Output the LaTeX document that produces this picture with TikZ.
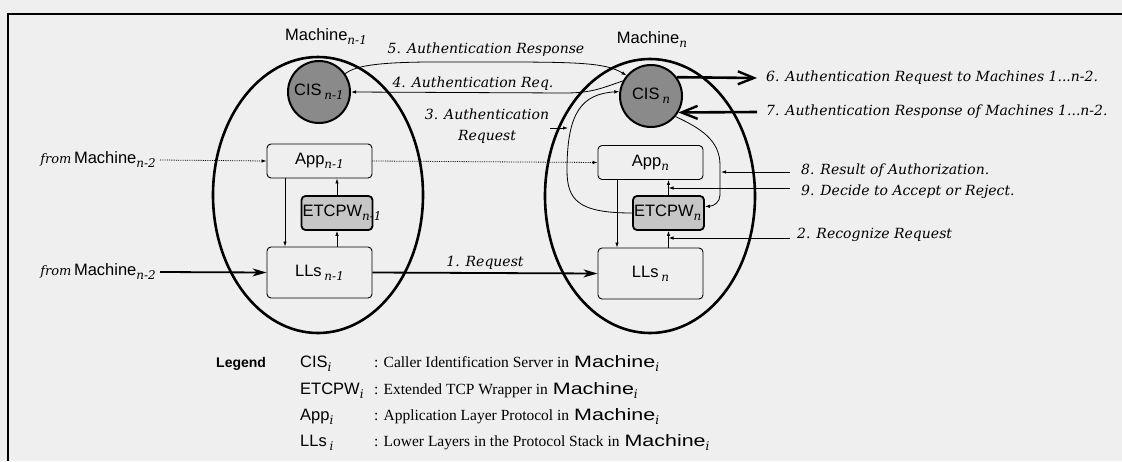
\documentclass[tikz,border=0pt]{standalone}
\usepackage{fontspec}
\usepackage{graphicx}
\setmainfont{Liberation Serif}
\setsansfont{Liberation Sans}
\newfontfamily\labfont{DejaVu Serif}
\usetikzlibrary{arrows.meta,shapes.geometric}
\definecolor{bg}{RGB}{239,239,239}
\definecolor{cisgray}{RGB}{138,138,138}
\definecolor{etcgray}{RGB}{198,198,198}
\newcommand\labf{\labfont\itshape\fontsize{14}{21}\selectfont}
\newcommand\lab[1]{{\labf #1}}
\newcommand\labsm[1]{{\labfont\itshape\fontsize{13}{14}\selectfont #1}}
\newcommand\sbs[1]{\raisebox{-4pt}{\labfont\itshape\fontsize{12}{12}\selectfont #1}}
\newcommand\sns{\sffamily\fontsize{16.5}{18}\selectfont}
\newcommand\descf{\rmfamily\fontsize{15.5}{17}\selectfont}
\newcommand\legmach{\scalebox{1.3}[1]{\sns Machine}\sbs{i}}
\begin{document}
\begin{tikzpicture}[x=1pt,y=-1pt,
  machine/.style={ellipse, draw, line width=2.6pt, inner sep=0pt},
  cis/.style={circle, draw, line width=2pt, fill=cisgray, minimum size=62pt, inner sep=0pt, font=\sns},
  layerbox/.style={draw, rounded corners=4pt, line width=0.9pt, minimum width=105pt, inner sep=0pt, font=\sns},
  etcbox/.style={draw, rounded corners=4pt, line width=1.8pt, fill=etcgray, minimum width=71pt, minimum height=34pt, inner sep=0pt, font=\sns},
  thin/.style={line width=0.8pt, -{Latex[length=5pt,width=3.5pt]}},
  dotarrow/.style={line width=0.8pt, densely dotted, -{Latex[length=5pt,width=3.5pt]}},
  reqarrow/.style={line width=1.8pt, -{Stealth[length=14pt,width=8pt,inset=4pt]}},
  bigarrow/.style={line width=2.6pt, -{Straight Barb[length=16pt,width=13pt,line width=2.4pt]}},
  txt/.style={inner sep=0pt}
]
\fill[bg] (0,0) rectangle (1122,461);
\useasboundingbox (0,0) rectangle (1122,461);
\draw[line width=1.3pt] (1122,14) -- (8,14) -- (8,461);

% machines
\node[machine, minimum width=210pt, minimum height=276pt] (m1) at (318,195) {};
\node[machine, minimum width=210pt, minimum height=274pt] (mn) at (650,196) {};
\node[txt, font=\sns] (lm1) at (326,37) {Machine\sbs{n-1}};
\node[txt, font=\sns] (lmn) at (652,40) {Machine\sbs{n}};

% left machine
\node[cis] (cis1) at (319,92) {CIS\,\sbs{n-1}};
\node[layerbox, minimum height=34pt] (app1) at (319.5,161) {App\sbs{n-1}};
\node[etcbox] (etc1) at (337,213) {\makebox[69pt][l]{ETCPW\sbs{n-1}}};
\node[layerbox, minimum height=51pt] (lls1) at (319.5,272.5) {LLs\,\sbs{n-1}};

% right machine
\node[cis] (cisn) at (651,96) {CIS\,\sbs{n}};
\node[layerbox, minimum height=34pt] (appn) at (650.5,162.5) {App\sbs{n}};
\node[etcbox] (etcn) at (668.5,213) {\makebox[69pt][l]{ETCPW\sbs{n}}};
\node[layerbox, minimum height=51pt] (llsn) at (650.5,273.5) {LLs\,\sbs{n}};

% inner connectors left
\draw[thin] ([xshift=-34.5pt]app1.south) -- ([xshift=-34.5pt]lls1.north);
\draw[thin] (etc1.north) -- (etc1.north |- app1.south);
\draw[thin] (etc1.south |- lls1.north) -- (etc1.south);
% inner connectors right
\draw[thin] ([xshift=-33.5pt]appn.south) -- ([xshift=-33.5pt]llsn.north);
\draw[thin] (etcn.north) -- (etcn.north |- appn.south);
\draw[thin] (etcn.south |- llsn.north) -- (etcn.south);

% from machine n-2
\node[anchor=east, inner ysep=0pt, inner xsep=4pt] (from1) at (160,160) {\labsm{from} {\sns Machine}\sbs{n-2}};
\node[anchor=east, inner ysep=0pt, inner xsep=4pt] (from2) at (160,272) {\labsm{from} {\sns Machine}\sbs{n-2}};
\draw[dotarrow] (from1.east) -- (app1.west);
\draw[dotarrow] (app1.east) -- (appn.west);
\draw[reqarrow] (from2.east) -- (lls1.west);
\draw[reqarrow] (lls1.east) -- node[pos=0.5, above=3pt, txt] (l1) {\lab{1. Request}} (llsn.west);

% 5 and 4
\draw[thin] (cis1.35) .. controls (362,60) and (420,62) .. (500,62) .. controls (580,62) and (606,63) .. (cisn.140);
\node[txt] (l5) at (486,50) {\lab{5. Authentication Response}};
\coordinate (k4) at (565,93);
\draw[thin] (cisn.152) .. controls (602,88) and (592,93) .. (k4) -- (cis1.east);
\node[txt] (l4) at (473,84) {\lab{4. Authentication Req.}};

% 3
\draw[thin] (etcn.west) .. controls (578,213) and (567,200) .. (567,170) .. controls (567,112) and (582,94) .. (cisn.172);
\node[txt, align=center, font=\labf] (l3) at (487,126) {3. Authentication\\Request};
\coordinate (p3s) at (550,128);
\coordinate (p3e) at (568,128);
\draw[thin] (p3s) -- (p3e);

% 8 curve
\draw[thin] (cisn.-40) .. controls (700,128) and (720,140) .. (720,165) -- (720,195) .. controls (720,202) and (714,206) .. (etcn.10);
\coordinate (s8) at (790,172);
\coordinate (e8) at (721,172);
\draw[thin] (s8) -- (e8);
\node[txt, anchor=west] (l8) at (801,171) {\lab{8. Result of Authorization.}};
\coordinate (s9) at (790,188);
\draw[thin] (s9) -- (s9 -| etcn.north);
\node[txt, anchor=west] (l9) at (801,192) {\lab{9. Decide to Accept or Reject.}};
\coordinate (s2) at (790,238);
\draw[thin] (s2) -- (s2 -| etcn.south);
\node[txt, anchor=west] (l2) at (797,235) {\lab{2. Recognize Request}};

% 6 and 7
\coordinate (e6) at (757,78);
\coordinate (s7) at (757,112);
\draw[bigarrow] (cisn.36) -- (e6);
\draw[bigarrow] (s7) -- (cisn.-31);
\node[txt, anchor=west] (l6) at (766,78) {\lab{6. Authentication Request to Machines 1...n-2.}};
\node[txt, anchor=west] (l7) at (766,112) {\lab{7. Authentication Response of Machines 1...n-2.}};

% legend
\node[txt, anchor=west, font=\sffamily\bfseries\fontsize{14}{16}\selectfont] (leg) at (216,364) {Legend};
\node[txt, anchor=west, font=\sns] (g1) at (300,364) {CIS\sbs{i}};
\node[txt, anchor=west, font=\sns] (g2) at (300,391) {ETCPW\sbs{i}};
\node[txt, anchor=west, font=\sns] (g3) at (300,417) {App\sbs{i}};
\node[txt, anchor=west, font=\sns] (g4) at (300,443) {LLs\,\sbs{i}};
\node[txt, anchor=west] (d1) at (374,364) {{\descf : Caller Identification Server in}\enspace\legmach};
\node[txt, anchor=west] (d2) at (374,391) {{\descf : Extended TCP Wrapper in}\enspace\legmach};
\node[txt, anchor=west] (d3) at (374,417) {{\descf : Application Layer Protocol in}\enspace\legmach};
\node[txt, anchor=west] (d4) at (374,443) {{\descf : Lower Layers in the Protocol Stack in}\enspace\legmach};
\end{tikzpicture}
\end{document}
